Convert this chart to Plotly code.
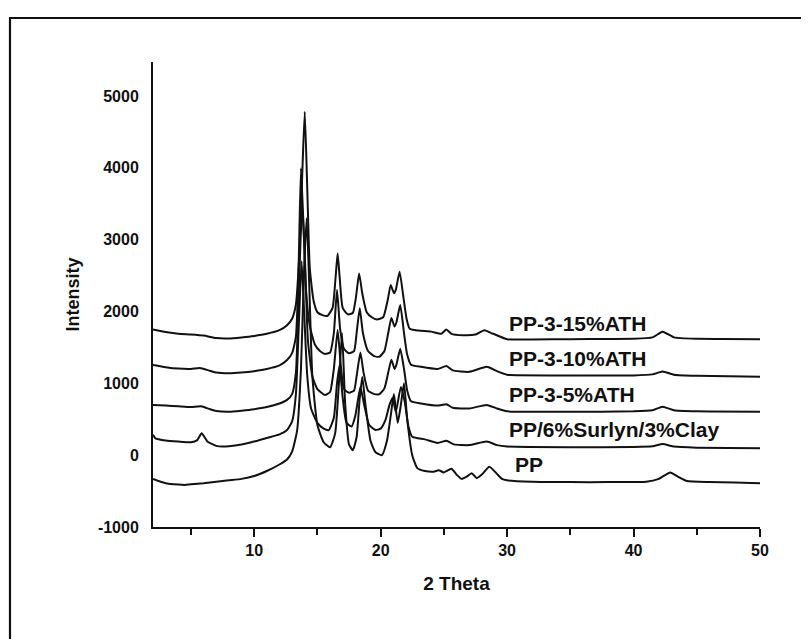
import plotly.graph_objects as go

# ---------------- data ----------------
series_names = ["PP-3-15%ATH", "PP-3-10%ATH", "PP-3-5%ATH", "PP/6%Surlyn/3%Clay", "PP"]

ath15_x = [2, 3, 4, 5, 6, 7, 8, 9, 10, 11, 12, 12.6, 13.0, 13.3, 13.6, 13.8, 14.0, 14.2, 14.4, 14.7,
           15.0, 15.4, 15.8, 16.2, 16.45, 16.6, 16.75, 17.0, 17.4, 17.8, 18.05, 18.3, 18.55, 18.9, 19.3,
           19.7, 20.2, 20.55, 20.8, 21.05, 21.2, 21.5, 21.8, 22.05, 22.3, 23.0, 24.0, 24.8, 25.2, 25.6,
           26.5, 27.5, 28.2, 28.9, 30, 32, 35, 38, 40, 41.5, 42.3, 43.2, 45, 47, 50]
ath15_y = [1750, 1715, 1690, 1680, 1665, 1630, 1625, 1640, 1660, 1690, 1740, 1810, 1900, 2100, 2900,
           3900, 4780, 3700, 2600, 2150, 1990, 1950, 1940, 2050, 2500, 2810, 2500, 2050, 1960, 1980,
           2200, 2530, 2250, 1990, 1920, 1890, 1920, 2150, 2370, 2255, 2300, 2555, 2200, 1900, 1760,
           1735, 1720, 1690, 1750, 1690, 1670, 1680, 1740, 1690, 1615, 1612, 1615, 1618, 1620, 1640,
           1720, 1640, 1620, 1618, 1613]

ath10_x = [2, 3, 4, 5, 5.7, 6.5, 7, 8, 9, 10, 11, 12, 12.6, 13.0, 13.3, 13.5, 13.7, 13.9, 14.1, 14.4,
           14.8, 15.2, 15.6, 16.0, 16.3, 16.55, 16.8, 17.1, 17.5, 17.9, 18.1, 18.35, 18.6, 19.0, 19.5,
           19.9, 20.3, 20.6, 20.85, 21.1, 21.25, 21.55, 21.85, 22.1, 22.4, 23.2, 24.5, 25.2, 25.7, 27,
           28.4, 29.2, 30, 35, 40, 41.5, 42.3, 43.2, 45, 50]
ath10_y = [1256, 1225, 1205, 1200, 1215, 1175, 1150, 1140, 1150, 1170, 1200, 1250, 1325, 1420, 1650,
           2500, 3994, 3200, 2300, 1800, 1540, 1450, 1410, 1430, 1700, 2300, 1750, 1480, 1420, 1450,
           1700, 2045, 1700, 1450, 1380, 1370, 1450, 1700, 1910, 1790, 1850, 2090, 1700, 1400, 1260,
           1230, 1200, 1240, 1180, 1160, 1230, 1170, 1120, 1110, 1110, 1125, 1165, 1120, 1105, 1093]

ath5_x = [2, 3, 4, 5, 5.8, 6.5, 7, 8, 9, 10, 11, 12, 12.6, 13.0, 13.3, 13.55, 13.8, 14.0, 14.25, 14.6,
          15.0, 15.6, 16.0, 16.3, 16.6, 16.85, 17.1, 17.5, 17.9, 18.1, 18.4, 18.65, 19.0, 19.5, 19.9,
          20.3, 20.6, 20.85, 21.1, 21.25, 21.55, 21.85, 22.1, 22.4, 23.2, 24.5, 25.2, 25.7, 27, 28.4,
          29.2, 30, 35, 40, 41.5, 42.3, 43.2, 45, 50]
ath5_y = [700, 690, 680, 670, 680, 640, 615, 605, 620, 640, 670, 720, 770, 850, 1150, 2400, 3500, 2800,
          1600, 1100, 920, 838, 880, 1200, 1743, 1250, 920, 870, 900, 1100, 1430, 1150, 900, 850, 850,
          930, 1150, 1330, 1200, 1260, 1480, 1200, 900, 750, 720, 690, 710, 660, 650, 700, 650, 610,
          605, 610, 625, 675, 625, 610, 605]

clay_x = [2.0, 2.2, 3, 4, 5, 5.5, 5.85, 6.3, 7, 7.5, 8, 9, 10, 11, 12, 12.6, 13.0, 13.3, 13.55, 13.75,
          13.95, 14.2, 14.5, 15.0, 15.5, 15.9, 16.3, 16.55, 16.75, 17.0, 17.3, 17.7, 18.0, 18.4, 18.7,
          19.1, 19.6, 20.0, 20.4, 20.7, 20.95, 21.2, 21.6, 21.9, 22.2, 22.5, 23.5, 24.5, 25.2, 25.8,
          27, 28.4, 29.2, 30, 35, 40, 41.5, 42.3, 43.2, 45, 50]
clay_y = [285, 235, 205, 190, 180, 210, 305, 190, 130, 120, 125, 150, 190, 240, 290, 350, 470, 850,
          1900, 2700, 2000, 1100, 650, 450, 370, 350, 520, 1000, 1250, 800, 450, 400, 550, 950, 700,
          420, 350, 370, 500, 700, 800, 600, 950, 750, 400, 258, 220, 170, 200, 150, 140, 190, 140,
          120, 110, 115, 125, 155, 120, 105, 95]

pp_x = [2, 3, 4, 4.5, 5, 6, 7, 8, 9, 10, 11, 12, 12.6, 13.0, 13.4, 13.7, 13.95, 14.15, 14.35, 14.6,
        15.0, 15.5, 16.0, 16.4, 16.7, 16.95, 17.2, 17.5, 17.8, 18.1, 18.35, 18.55, 18.8, 19.2, 19.6,
        20.1, 20.5, 20.8, 21.05, 21.35, 21.6, 21.85, 22.1, 22.5, 22.9, 23.5, 24.2, 24.6, 25.0, 25.6,
        26.0, 26.4, 26.8, 27.2, 27.6, 28.0, 28.6, 29.2, 29.6, 30, 32, 35, 38, 41, 42.0, 42.9, 43.5,
        44.2, 46, 48, 50]
pp_y = [-330, -390, -410, -415, -405, -390, -370, -350, -330, -290, -220, -130, -60, 50, 350, 1200,
        2600, 3300, 2400, 1100, 420, 180, 110, 300, 1000, 1700, 700, 150, 70, 250, 800, 1090, 700,
        200, 40, 0, 200, 550, 850, 450, 700, 1000, 500, 0, -180, -220, -230, -210, -240, -190, -270,
        -330, -300, -250, -320, -270, -160, -260, -330, -350, -370, -375, -375, -370, -330, -240,
        -300, -360, -375, -380, -390]

x_ticks = [10, 20, 30, 40, 50]
x_minor_ticks = [5, 15, 25, 35, 45]
y_ticks = [-1000, 0, 1000, 2000, 3000, 4000, 5000]
y_tick_text = ["-1000", "0", "1000", "2000", "3000", "4000", "5000"]

# label anchor positions (data coordinates of the text's left-middle point)
label_x = [30.0, 30.0, 30.0, 30.0, 30.5]
label_y = [1840, 1340, 838, 351, -136]

# ---------------- figure ----------------
FONT = "Liberation Sans, Arial, Helvetica, sans-serif"
INK = "#111111"
fig = go.Figure()
for xs, ys, name in [(pp_x, pp_y, series_names[4]), (clay_x, clay_y, series_names[3]),
                     (ath5_x, ath5_y, series_names[2]), (ath10_x, ath10_y, series_names[1]),
                     (ath15_x, ath15_y, series_names[0])]:
    fig.add_trace(go.Scatter(x=xs, y=ys, mode="lines", name=name,
                             line=dict(color=INK, width=2, shape="spline", smoothing=0.5),
                             showlegend=False))

for name, lx, ly in zip(series_names, label_x, label_y):
    fig.add_annotation(x=lx, y=ly, xref="x", yref="y", text=name, showarrow=False,
                       xanchor="left", yanchor="middle",
                       font=dict(family=FONT, size=21, color=INK, weight="bold"))

fig.update_layout(
    width=801, height=631,
    margin=dict(l=145, r=49, t=54, b=112),
    paper_bgcolor="white", plot_bgcolor="white",
    font=dict(family=FONT, color=INK),
    xaxis=dict(range=[2, 50], tickmode="array", tickvals=x_ticks, ticks="outside", ticklen=8,
               tickwidth=2, tickcolor=INK, showline=True, linecolor=INK, linewidth=2,
               showgrid=False, zeroline=False,
               minor=dict(tickmode="array", tickvals=x_minor_ticks, ticks="outside", ticklen=6,
                          tickwidth=2, tickcolor=INK),
               tickfont=dict(family=FONT, size=16, weight="bold"),
               title=dict(text="2 Theta", font=dict(family=FONT, size=19, weight="bold"), standoff=18)),
    yaxis=dict(range=[-1000, 5474], tickmode="array", tickvals=y_ticks, ticktext=y_tick_text, ticks="",
               showline=True, linecolor=INK, linewidth=2, showgrid=False, zeroline=False,
               tickfont=dict(family=FONT, size=16, weight="bold"), ticklabelstandoff=9,
               title=dict(text="Intensity", font=dict(family=FONT, size=18, weight="bold"), standoff=14)),
    shapes=[dict(type="rect", xref="paper", yref="paper", x0=-0.2356, x1=1.09, y0=-0.25, y1=1.0946,
                 line=dict(color=INK, width=2.2), fillcolor="rgba(0,0,0,0)", layer="above")],
)

fig.write_html("out.html")
